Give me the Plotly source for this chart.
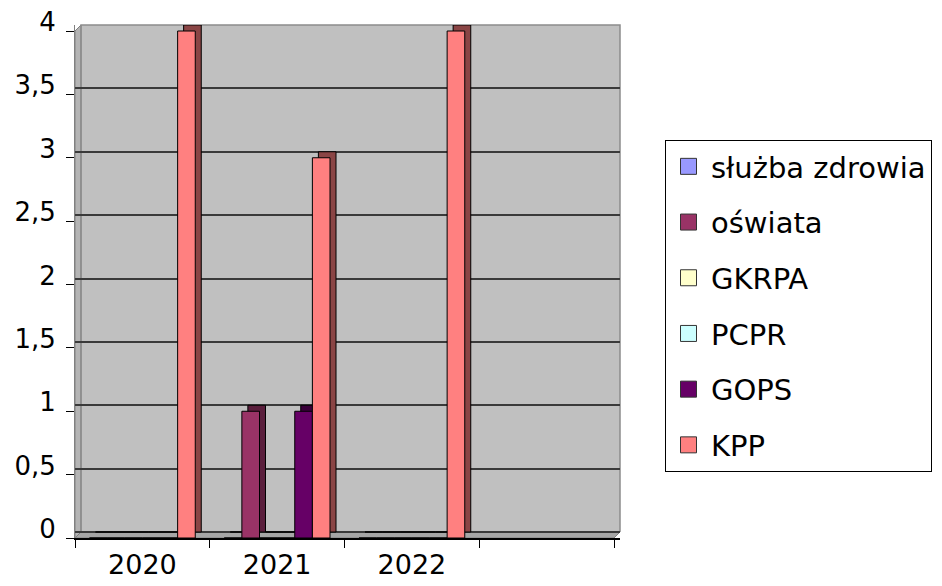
import plotly.graph_objects as go

# ---- data ----
categories = ["2020", "2021", "2022"]
axis_categories = ["2020", "2021", "2022", " "]
series_names = ["służba zdrowia", "oświata", "GKRPA", "PCPR", "GOPS", "KPP"]
sluzba_zdrowia = [0, 0, 0]
oswiata = [0, 1, 0]
gkrpa = [0, 0, 0]
pcpr = [0, 0, 0]
gops = [0, 1, 0]
kpp = [4, 3, 4]
y_tick_values = [0, 0.5, 1, 1.5, 2, 2.5, 3, 3.5, 4]

series_values = [sluzba_zdrowia, oswiata, gkrpa, pcpr, gops, kpp]
face_colors = ["#9999FF", "#993366", "#FFFFCC", "#CCFFFF", "#660066", "#FF8080"]
side_colors = ["#5C5C99", "#5A1E3C", "#99997A", "#7A9999", "#3A003A", "#8A4545"]

W, H = 942, 586
ML, MR, MT, MB = 75, 322, 25, 48
PW, PH = W - ML - MR, H - MT - MB  # plot area px
DEPTH = 6  # 3D depth offset in px

ymax = 4.0
y_per_px = ymax / (PH - DEPTH)
x_per_px = 4.0 / (PW - DEPTH)

front_x_range = [-0.5, 3.5 + DEPTH * x_per_px]
front_y_range = [0, ymax + DEPTH * y_per_px]
back_x_range = [-0.5 - DEPTH * x_per_px, 3.5]
back_y_range = [-DEPTH * y_per_px, ymax]

font = "DejaVu Sans"
fig = go.Figure()

# depth faces (back plane)
for name, vals, sc in zip(series_names, series_values, side_colors):
    fig.add_trace(go.Bar(
        x=categories, y=vals, name=name, xaxis="x", yaxis="y",
        marker=dict(color=sc, line=dict(color="#000000", width=1)),
        showlegend=False, hoverinfo="skip",
    ))

# front faces
for name, vals, fc in zip(series_names, series_values, face_colors):
    fig.add_trace(go.Bar(
        x=categories, y=vals, name=name, xaxis="x2", yaxis="y2",
        marker=dict(color=fc, line=dict(color="#000000", width=1)),
        showlegend=False,
    ))

# legend entries
for i, (name, fc) in enumerate(zip(series_names, face_colors)):
    fig.add_trace(go.Scatter(
        x=[None], y=[None], mode="markers", name=name,
        xaxis="x2", yaxis="y2", legendgroup=f"g{i}",
        marker=dict(symbol="square", size=16, color=fc,
                    line=dict(color="#333333", width=1)),
    ))

def px_x(p):
    return p / PW

def px_y(p):
    return 1 - p / PH

d = DEPTH
shapes = [
    dict(type="path", xref="paper", yref="paper", layer="below",
         path=f"M {px_x(0)},{px_y(0)} L {px_x(d)},{px_y(0)} L {px_x(0)},{px_y(d)} Z",
         fillcolor="white", line=dict(width=0)),
    dict(type="path", xref="paper", yref="paper", layer="below",
         path=f"M {px_x(PW-d)},{px_y(PH)} L {px_x(PW)},{px_y(PH)} L {px_x(PW)},{px_y(PH-d)} Z",
         fillcolor="white", line=dict(width=0)),
    dict(type="path", xref="paper", yref="paper", layer="below",
         path=f"M {px_x(0)},{px_y(PH)} L {px_x(0)},{px_y(d)} L {px_x(d)},{px_y(0)} L {px_x(d)},{px_y(PH-d)} Z",
         fillcolor="#B4B4B4", line=dict(color="#808080", width=1)),
    dict(type="path", xref="paper", yref="paper", layer="below",
         path=f"M {px_x(0)},{px_y(PH)} L {px_x(d)},{px_y(PH-d)} L {px_x(PW)},{px_y(PH-d)} L {px_x(PW-d)},{px_y(PH)} Z",
         fillcolor="#A6A6A6", line=dict(color="#808080", width=1)),
    dict(type="path", xref="paper", yref="paper", layer="below",
         path=f"M {px_x(d)},{px_y(PH-d)} L {px_x(d)},{px_y(0)} L {px_x(PW)},{px_y(0)} L {px_x(PW)},{px_y(PH-d)}",
         line=dict(color="#8C8C8C", width=1.5)),
]

fig.update_layout(
    width=W, height=H, autosize=False,
    margin=dict(l=ML, r=MR, t=MT, b=MB, pad=0, autoexpand=False),
    paper_bgcolor="white", plot_bgcolor="#C0C0C0",
    separators=", ",
    barmode="group", bargap=0.215, bargroupgap=0,
    font=dict(family=font, color="#000000"),
    shapes=shapes,
    xaxis=dict(type="category", categoryorder="array", categoryarray=axis_categories,
               range=back_x_range, showticklabels=False, ticks="", automargin=False,
               showgrid=False, zeroline=False, showline=False, fixedrange=True),
    yaxis=dict(range=back_y_range, tickvals=y_tick_values, showticklabels=False, ticks="",
               showgrid=True, gridcolor="#3A3A3A", gridwidth=1.5, automargin=False,
               zeroline=False, showline=False, fixedrange=True),
    xaxis2=dict(type="category", categoryorder="array", categoryarray=axis_categories,
                overlaying="x", range=front_x_range, tickson="boundaries",
                ticks="outside", ticklen=8, tickcolor="#000000", tickwidth=1,
                showline=True, linecolor="#000000", linewidth=1.5, automargin=False,
                showgrid=False, zeroline=False, ticklabelstandoff=2,
                tickfont=dict(family=font, size=27, color="#000000"),
                fixedrange=True),
    yaxis2=dict(overlaying="y", range=front_y_range, tickvals=y_tick_values,
                ticks="outside", ticklen=8, tickcolor="#000000", tickwidth=1,
                showline=True, linecolor="#808080", linewidth=1, automargin=False,
                showgrid=False, zeroline=False, ticklabelstandoff=5, ticklabelshift=-9,
                tickfont=dict(family=font, size=26, color="#000000"),
                fixedrange=True),
    legend=dict(xref="container", yref="container",
                x=665 / W, y=1 - 140 / H, xanchor="left", yanchor="top",
                bgcolor="white", bordercolor="#000000", borderwidth=1,
                font=dict(family=font, size=29, color="#000000"),
                tracegroupgap=15, traceorder="grouped", itemsizing="trace",
                itemwidth=35, entrywidth=420, entrywidthmode="pixels", maxheight=1.0),
)

fig.write_html("out.html", config={"displayModeBar": False},
               post_script="document.body.style.margin='0';")
